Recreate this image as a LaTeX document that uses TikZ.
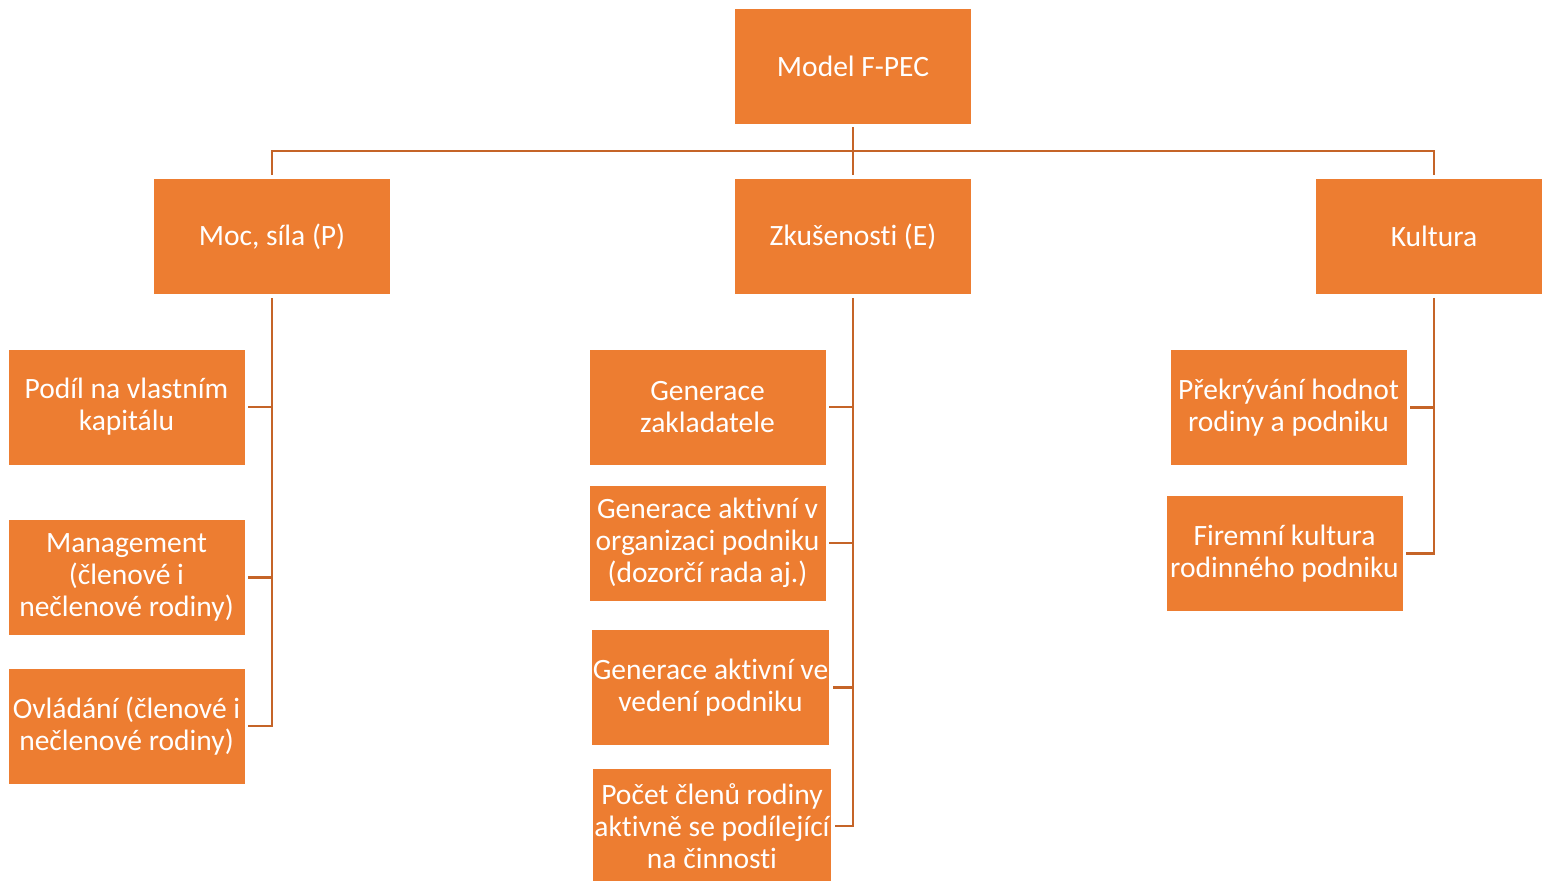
\documentclass[tikz,border=0pt]{standalone}
\usepackage{fontspec}
\setmainfont[Ligatures=NoCommon]{Carlito}
\usetikzlibrary{positioning,calc}
\definecolor{boxorange}{RGB}{237,125,49}
\definecolor{lineorange}{RGB}{197,100,40}
\tikzset{
  box/.style={fill=boxorange, draw=white, line width=0.5pt, text=white,
    minimum width=4.74cm, minimum height=2.32cm, align=center, inner sep=1pt,
    font=\fontsize{16.8}{18.2}\selectfont},
  link/.style={draw=lineorange, line width=1.6pt}
}

\begin{document}
\begin{tikzpicture}
\useasboundingbox (0,0) rectangle (30.84,17.6);
\clip (0,0) rectangle (30.84,17.6);

\node[box] (top)    at (17.06,16.28) {Model F-PEC};
\node[box] (moc)    at ( 5.44,12.87) {Moc, síla (P)};
\node[box] (zk)     at (17.06,12.87) {Zkušenosti (E)};
\node[box] (kul)    at (28.68,12.87) {Kultura};

\node[box] (podil)  at ( 2.53, 9.46) {Podíl na vlastním\\kapitálu};
\node[box] (mgmt)   at ( 2.53, 6.05) {Management\\(členové i\\nečlenové rodiny)};
\node[box] (ovl)    at ( 2.53, 3.08) {Ovládání (členové i\\nečlenové rodiny)};

\node[box] (genz)   at (14.15, 9.46) {Generace\\zakladatele};
\node[box] (genorg) at (14.15, 6.74) {Generace aktivní v\\organizaci podniku\\(dozorčí rada aj.)};
\node[box] (genved) at (14.21, 3.85) {Generace aktivní ve\\vedení podniku};
\node[box] (pocet)  at (14.24, 1.08) {Počet členů rodiny\\aktivně se podílející\\na činnosti};

\node[box] (prek)   at (25.77, 9.45) {Překrývání hodnot\\rodiny a podniku};
\node[box] (firem)  at (25.69, 6.53) {Firemní kultura\\rodinného podniku};

\coordinate (j) at (17.06,14.58);
\draw[link] ([yshift=-0.06cm]top.south) -- ([yshift=0.06cm]zk.north);
\draw[link] ([yshift=0.06cm]moc.north) |- (j) -| ([yshift=0.06cm]kul.north);

\draw[link] ([yshift=-0.06cm]moc.south) |- ([xshift=0.06cm]ovl.east);
\foreach \n in {podil,mgmt}{\draw[link] ([xshift=0.06cm]\n.east) -- (\n.east -| moc.south);}

\draw[link] ([yshift=-0.06cm]zk.south) |- ([xshift=0.06cm]pocet.east);
\foreach \n in {genz,genorg,genved}{\draw[link] ([xshift=0.06cm]\n.east) -- (\n.east -| zk.south);}

\draw[link] ([yshift=-0.06cm]kul.south) |- ([xshift=0.06cm]firem.east);
\draw[link] ([xshift=0.06cm]prek.east) -- (prek.east -| kul.south);
\end{tikzpicture}
\end{document}
